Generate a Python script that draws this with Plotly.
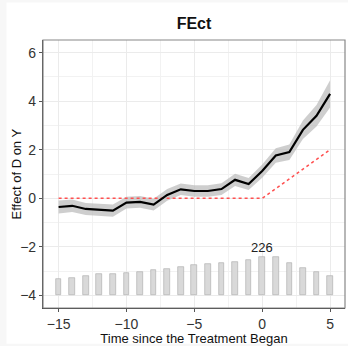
import plotly.graph_objects as go

periods = list(range(-15, 6))
att = [-0.36, -0.31, -0.44, -0.48, -0.51, -0.18, -0.15, -0.26, 0.14, 0.37, 0.30,
       0.30, 0.38, 0.76, 0.59, 1.12, 1.76, 1.90, 2.82, 3.40, 4.30]
ci_half = [0.27, 0.26, 0.25, 0.25, 0.25, 0.24, 0.24, 0.24, 0.24, 0.24, 0.24,
           0.24, 0.24, 0.25, 0.25, 0.27, 0.30, 0.32, 0.38, 0.44, 0.56]
true_eff = [0, 0, 0, 0, 0, 0, 0, 0, 0, 0, 0, 0, 0, 0, 0, 0, 0.4, 0.8, 1.2, 1.6, 2.0]
counts = [97, 104, 112, 122, 127, 133, 135, 147, 156, 166, 174, 182, 187, 195,
          207, 226, 224, 191, 160, 135, 114]

bar_base = -4
bar_max_h = 1.6
mx = max(counts)
bar_h = [c / mx * bar_max_h for c in counts]

upper = [a + h for a, h in zip(att, ci_half)]
lower = [a - h for a, h in zip(att, ci_half)]

fig = go.Figure()
fig.add_trace(go.Bar(x=periods, y=bar_h, base=bar_base, width=0.42,
                     marker=dict(color="#d9d9d9", line=dict(color="#a8a8a8", width=0.6)),
                     showlegend=False, hoverinfo="skip"))
fig.add_trace(go.Scatter(x=periods + periods[::-1], y=upper + lower[::-1], fill="toself",
                         fillcolor="rgba(185,185,185,0.7)", line=dict(width=0),
                         showlegend=False, hoverinfo="skip"))
fig.add_trace(go.Scatter(x=periods, y=true_eff, mode="lines",
                         line=dict(color="#ff5050", width=1.5, dash="3px,3px"), showlegend=False))
fig.add_trace(go.Scatter(x=periods, y=att, mode="lines",
                         line=dict(color="black", width=2.2), showlegend=False))

imax = counts.index(mx)
fig.add_annotation(x=periods[imax], y=bar_base + bar_max_h, text=str(mx), showarrow=False,
                   yanchor="bottom", yshift=0, font=dict(size=13, color="#222"))

# y-axis title placed as annotation
fig.add_annotation(x=-0.088, y=0.5, xref="paper", yref="paper", text="Effect of D on Y",
                   textangle=-90, showarrow=False, xanchor="center", yanchor="middle",
                   font=dict(size=13, color="#111"))

# reference lines at 0
fig.add_shape(type="line", xref="x", yref="paper", x0=0, x1=0, y0=0, y1=1,
              line=dict(color="#c4c4c4", width=2.2), layer="below")
fig.add_shape(type="line", xref="paper", yref="y", x0=0, x1=1, y0=0, y1=0,
              line=dict(color="#c4c4c4", width=2), layer="below")
# outer white page area
fig.add_shape(type="rect", xref="paper", yref="paper", x0=-0.121, x1=1.02, y0=-0.133, y1=1.14,
              fillcolor="white", line=dict(width=0), layer="below")
# panel border
fig.add_shape(type="rect", xref="paper", yref="paper", x0=0, x1=1, y0=0, y1=1,
              line=dict(color="#888888", width=1.2), fillcolor="rgba(0,0,0,0)")

axis_common = dict(showgrid=True, gridcolor="#ebebeb", gridwidth=1, zeroline=False,
                   showline=True, linecolor="#333", linewidth=1.2,
                   ticks="outside", ticklen=3, tickcolor="#555",
                   tickfont=dict(size=14, color="#333"))

fig.update_xaxes(range=[-16.15, 6.1], tickvals=[-15, -10, -5, 0, 5],
                 ticktext=["\u221215", "\u221210", "\u22125", "0", "5"],
                 minor=dict(dtick=2.5, tick0=0, showgrid=True, gridcolor="#f2f2f2", gridwidth=0.8),
                 title=dict(text="Time since the Treatment Began", font=dict(size=13, color="#111"), standoff=0),
                 **axis_common)
fig.update_yaxes(range=[-4.52, 6.52], tickvals=[-4, -2, 0, 2, 4, 6],
                 ticktext=["\u22124", "\u22122", "0", "2", "4", "6"],
                 minor=dict(dtick=1, tick0=0, showgrid=True, gridcolor="#f2f2f2", gridwidth=0.8),
                 **axis_common)

fig.update_layout(
    width=348, height=346,
    margin=dict(l=43, r=3, t=40, b=38),
    paper_bgcolor="#f7f7f7", plot_bgcolor="white",
    font=dict(family="Liberation Sans, Arial, sans-serif"),
    title=dict(text="<b>FEct</b>", x=0.5, xref="paper", xanchor="center",
               y=1, yref="container", yanchor="top", pad=dict(t=18),
               font=dict(size=16, color="#111")),
    bargap=0,
)

fig.write_html("out.html")
